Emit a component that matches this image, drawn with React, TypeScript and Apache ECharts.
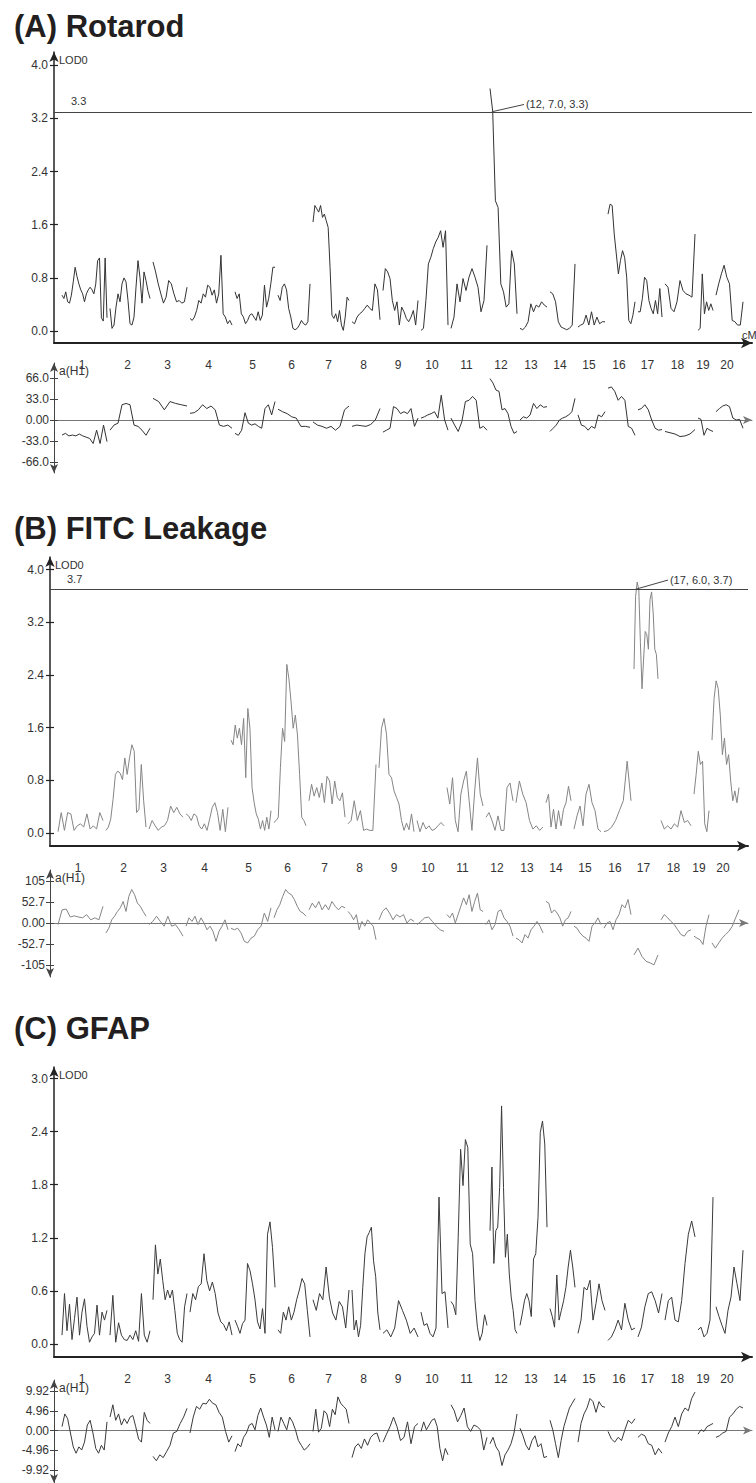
import React, { useEffect, useRef } from "react";
import * as echarts from "echarts";

// ---------- genome layout (cM) ----------
const CHROMS = ["1","2","3","4","5","6","7","8","9","10","11","12","13","14","15","16","17","18","19","20"];
const CHROM_LEN_CM = [180,160,136,168,160,128,144,112,140,108,144,108,108,100,108,108,96,120,60,108];
const CHROM_GAP_CM = 12;
const X_MIN = -32;
const X_MAX = 2760;

// ---------- (A) Rotarod ----------
const rotarodLod = [
  [0.54,0.49,0.59,0.44,0.42,0.54,0.74,0.96,0.82,0.71,0.62,0.56,0.44,0.56,0.62,0.66,0.62,0.56,0.71,1.06,1.1,0.2,0.15,1.1,0.2],
  [0.34,0.04,0.09,0.36,0.56,0.44,0.71,0.8,0.74,0.46,0.11,0.09,0.21,0.66,1.06,0.8,0.42,0.89,0.76,0.6,0.49],
  [1.04,0.89,0.71,0.56,0.42,0.51,0.76,0.71,0.56,0.44,0.46,0.42,0.44,0.66],
  [0.19,0.16,0.21,0.31,0.46,0.42,0.56,0.51,0.69,0.66,0.54,0.62,0.42,0.56,1.14,0.26,0.21,0.11,0.16,0.09],
  [0.59,0.49,0.56,0.26,0.21,0.11,0.16,0.24,0.26,0.21,0.16,0.29,0.16,0.24,0.69,0.36,0.49,0.71,0.96,0.96],
  [0.54,0.46,0.66,0.71,0.62,0.34,0.21,0.04,0.02,0.04,0.09,0.16,0.11,0.09,0.14,0.71],
  [1.64,1.89,1.84,1.79,1.89,1.71,1.76,1.66,1.56,0.96,0.24,0.19,0.26,0.14,0.31,0.09,0.01,0.21,0.51,0.46],
  [0.14,0.11,0.21,0.26,0.29,0.34,0.39,0.34,0.31,0.71,0.62,0.17],
  [0.61,0.94,0.89,0.79,0.46,0.31,0.44,0.09,0.36,0.29,0.19,0.14,0.21,0.31,0.09,0.46],
  [0.01,0.04,0.46,1.01,1.11,1.24,1.34,1.41,1.51,1.26,1.51,0.09],
  [0.04,0.21,0.71,0.44,0.79,0.61,0.81,0.94,0.81,0.66,0.29,0.46,1.29],
  [3.65,3.31,1.96,1.86,0.71,0.59,0.36,0.41,1.21,1.01,0.26],
  [0.04,0.02,0.06,0.14,0.41,0.29,0.39,0.36,0.44,0.39,0.36],
  [0.59,0.56,0.44,0.14,0.06,0.04,0.02,0.04,0.09,1.01],
  [0.06,0.09,0.11,0.24,0.09,0.29,0.09,0.21,0.11,0.14,0.14],
  [1.76,1.91,1.89,1.46,1.16,0.86,1.06,1.21,1.11,0.81,0.16,0.11,0.24,0.44],
  [0.29,0.29,0.49,0.81,0.76,0.46,0.34,0.26,0.46,0.26,0.64,0.21],
  [0.71,0.66,0.34,0.29,0.44,0.76,0.61,0.56,0.54,0.51,1.46],
  [0.01,0.04,0.86,0.26,0.44,0.31,0.41,0.31],
  [0.54,0.71,0.86,0.99,0.81,0.71,0.16,0.14,0.09,0.09,0.44],
];
const rotarodEffect = [
  [-23.6,-21,-25,-23.6,-25,-22,-25,-27,-29,-37,-16,-37,-8,-34],
  [-16,-8,-5,24,26,24,-8,-10,-16,-24,-13],
  [34,29,16,29,26,24,22],
  [10.5,11.5,16,24,18,22,16,-8,-10,-8,-13],
  [-21,-24,-16,11.5,-5,-8,-6,-10,-13,18,24,8,29],
  [17,13,10,5,3,-10,-10,-11.5],
  [-3,-8,-10,-13,-10,-16,-10,16,22],
  [-10,-8,-9,-10,-7,0,18],
  [-19,-16,-13,21,18,10,13,10,18,-10,3],
  [3,5,8,10,13,3,39,0,-16],
  [3,-8,-18,-3,29,31,37,31,-13,-10,-16],
  [65,58,47,45,16,18,10,-10,-21,-18],
  [0,5,3,8,26,18,24,20,21],
  [-18,-13,-8,0,3,5,8,13,34],
  [8,-8,-10,-16,-10,-13,8,5,13],
  [50,52,45,31,37,31,-10,-13,-24],
  [16,18,24,16,0,-13,-16,-15],
  [-18,-20,-22,-26,-25,-22,-15],
  [3,1,-24,-13,-16,-18],
  [13,18,22,24,21,3,0,1,-13],
];

// ---------- (B) FITC Leakage ----------
const fitcLod = [
  [0.02,0.31,0.04,0.31,0.29,0.04,0.11,0.14,0.09,0.29,0.06,0.11,0.06,0.31,0.19],
  [0.04,0.09,0.21,0.51,0.89,0.94,0.91,0.81,1.14,0.89,1.14,1.34,1.24,0.31,0.36,1.04,0.49,0.09],
  [0.06,0.19,0.11,0.04,0.09,0.11,0.19,0.41,0.31,0.39,0.29,0.24],
  [0.29,0.26,0.19,0.29,0.26,0.11,0.06,0.14,0.04,0.21,0.39,0.46,0.31,0.04,0.36,0.02,0.39],
  [1.41,1.34,1.64,1.44,1.59,1.34,1.74,0.84,1.89,1.59,0.69,0.46,0.29,0.21,0.06,0.19,0.04,0.24,0.06,0.34],
  [0.16,0.19,0.24,0.99,1.59,1.39,2.56,2.34,1.99,1.59,1.79,1.49,0.89,0.24,0.19,0.11],
  [0.49,0.74,0.56,0.69,0.54,0.76,0.46,0.86,0.79,0.44,0.79,0.54,0.49,0.61,0.24],
  [0.14,0.19,0.49,0.19,0.34,0.04,0.06,0.04,0.04,1.04],
  [0.99,1.59,1.74,1.5,0.89,0.84,0.64,0.54,0.44,0.19,0.04,0.15,0.05,0.29,0.02],
  [0.19,0.02,0.16,0.06,0.11,0.04,0.06,0.11,0.16,0.11],
  [0.69,0.44,0.84,0.19,0.02,0.59,0.79,0.94,0.49,0.04,0.64,1.14,0.59,0.41],
  [0.24,0.31,0.19,0.04,0.26,0.04,0.04,0.69,0.76,0.49],
  [0.46,0.79,0.59,0.46,0.19,0.06,0.11,0.04,0.09],
  [0.46,0.59,0.09,0.36,0.06,0.34,0.11,0.36,0.46,0.71,0.49],
  [0.06,0.26,0.41,0.11,0.59,0.74,0.46,0.34,0.06,0.02],
  [0.02,0.04,0.09,0.19,0.34,0.49,1.09,0.49],
  [2.49,3.59,3.81,3.69,2.89,2.19,2.64,3.06,3.01,2.79,3.54,3.66,3.34,2.79,2.71,2.34],
  [0.19,0.06,0.11,0.06,0.14,0.09,0.34,0.16,0.19,0.11],
  [0.59,0.89,1.24,1.04,1.09,0.14,0.02,0.34],
  [1.41,2.04,2.31,2.19,1.79,1.19,1.44,1.04,1.19,0.79,0.49,0.64,0.46,0.69],
];
const fitcEffect = [
  [-4,33,35,15,18,15,13,21,8,13,8,42],
  [-25,-13,8,17,29,38,54,29,67,84,71,50,42,29,17],
  [-4,4,17,4,-8,17,-8,-4,-17,-33],
  [-8,13,4,17,-4,13,0,-17,-8,-21,-46,-21,-8,8,-17],
  [-13,-17,-13,-25,-46,-50,-38,-33,-17,-8,25,4,38],
  [13,33,46,67,84,75,71,59,42,29,25,17],
  [33,50,38,54,33,46,33,54,42,33,42,38],
  [29,21,8,21,-17,4,-8,8,0,-8,-42],
  [8,29,38,25,8,21,15,21,0,10,4],
  [-4,4,13,15,4,-8,-17,-21],
  [21,13,25,0,21,42,63,46,71,29,54,75,33,29],
  [-4,8,-17,-4,29,33,13,4,-8,-33],
  [-38,-42,-50,-29,-38,-17,-8,4,-8,-25],
  [54,50,25,33,25,13,-8,8,13,29],
  [-8,-13,-25,-33,-38,-46,-8,0,13,-4],
  [-13,0,4,-17,8,21,46,38,59,21],
  [-80,-63,-84,-96,-100,-105,-80],
  [8,21,13,4,-4,-17,-29,-33,-21,-17],
  [-33,-38,-42,-54,-8,21],
  [-50,-63,-50,-38,-29,-21,-8,13,33],
];

// ---------- (C) GFAP ----------
const gfapLod = [
  [0.1,0.57,0.15,0.45,0.05,0.29,0.53,0.1,0.36,0.51,0.2,0.02,0.08,0.12,0.44,0.1,0.36,0.27,0.38],
  [0.1,0.55,0.02,0.24,0.1,0.05,0.04,0.1,0.05,0.15,0.03,0.57,0.1,0.02,0.15],
  [0.5,1.12,0.79,0.96,0.72,0.5,0.61,0.52,0.61,0.38,0.12,0.05,0.02,0.42,0.57],
  [0.36,0.57,0.5,0.65,0.68,1.02,0.72,0.6,0.7,0.57,0.35,0.25,0.22,0.15,0.25,0.1],
  [0.27,0.2,0.12,0.23,0.27,0.91,0.83,0.68,0.5,0.25,0.17,0.4,0.12,1.24,1.38,1.09,0.64],
  [0.16,0.12,0.36,0.27,0.42,0.27,0.36,0.5,0.61,0.74,0.68,0.38,0.08],
  [0.5,0.38,0.57,0.5,0.87,0.53,0.35,0.27,0.48,0.42,0.18,0.61],
  [0.61,0.16,0.27,0.08,0.21,0.64,1.02,1.21,1.26,1.32,0.94,0.76,0.35,0.16],
  [0.12,0.16,0.08,0.18,0.49,0.38,0.27,0.12,0.18,0.08],
  [0.36,0.21,0.23,0.12,0.08,0.18,1.66,0.57,0.59,0.18],
  [0.48,0.44,0.33,1.2,2.2,1.79,2.31,2.22,1.13,1.02,0.49,0.19,0.04,0.12,0.33,0.21],
  [1.28,2.0,0.91,1.28,1.32,1.77,2.69,1.77,0.98,1.24,0.79,0.53,0.38,0.16,0.12],
  [0.21,0.34,0.49,0.57,0.49,0.31,0.96,1.02,1.43,2.39,2.52,2.26,1.32],
  [0.4,0.31,0.19,0.78,0.27,0.38,0.49,0.64,0.87,1.06,0.87,0.64],
  [0.12,0.27,0.64,0.61,0.72,0.27,0.46,0.68,0.49,0.38],
  [0.04,0.08,0.16,0.27,0.16,0.46,0.27,0.16,0.18],
  [0.08,0.19,0.42,0.57,0.59,0.49,0.35,0.57],
  [0.27,0.49,0.53,0.27,0.25,0.49,0.91,1.24,1.39,1.21],
  [0.16,0.19,0.08,0.12,0.27,1.66],
  [0.42,0.31,0.21,0.12,0.38,0.53,0.87,0.68,0.49,1.06],
];
const gfapEffect = [
  [1.0,4.2,3.0,-0.6,-4.1,-5.7,-4.1,-4.9,-2.9,1.4,2.6,-0.6,-4.5,-5.7,-3.7,-4.9,2.2],
  [3.4,6.5,2.6,4.2,1.4,3.0,1.8,3.4,3.8,1.0,-2.1,-2.9,4.6,2.6,1.8],
  [-6.5,-7.6,-6.1,-6.8,-5.3,-3.7,-0.6,-0.2,1.8,3.4,5.6],
  [-0.6,3.4,6.1,5.4,6.9,6.7,7.9,6.9,6.5,4.6,3.4,-0.2,-2.9,-1.3],
  [-5.3,-3.3,-4.1,-1.7,-0.6,1.4,1.8,0.2,3.8,5.7,3.4,1.4,-1.7,3.4,0.2],
  [-0.2,3.4,1.8,0.2,3.4,2.2,0.2,-2.5,-3.7,-4.9,-4.3,-3.3],
  [-0.2,5.4,-0.4,0.6,5.0,4.2,1.0,5.4,4.0,8.5,6.9,6.1,5.4,1.8],
  [-6.8,-4.1,-3.3,-4.5,-2.1,-3.7,-1.7,-0.9,-0.6,-2.9],
  [-2.9,-0.9,1.0,3.4,1.0,-2.5,-1.7,2.2,-3.3,1.0,1.8],
  [-0.2,2.2,0.2,1.4,2.6,3.0,1.0,-4.5,-7.6,-4.5,-6.1],
  [6.5,5.0,2.2,3.8,5.7,1.0,-0.2,1.4,1.0,0.2,-4.9,-1.7],
  [-3.3,-1.7,-4.1,-5.3,-8.8,-6.1,-4.9,-3.3,-0.6,4.2],
  [0.6,-1.3,-3.7,-4.9,-2.5,-1.3,-4.1,-3.3,-6.8,-6.5],
  [2.6,0.2,-3.3,-6.8,-2.5,1.0,3.4,5.7,6.9,8.1],
  [-2.9,1.8,4.2,5.7,8.1,7.3,4.6,7.3,6.1,5.9],
  [-0.2,-2.1,-2.9,-1.7,-2.5,0.2,2.6,1.8,3.0],
  [-1.7,-0.9,-1.3,-3.3,-3.7,-6.1,-4.5,-5.7],
  [-2.9,-0.6,1.0,3.4,1.0,4.2,5.7,5.0,8.1,9.7],
  [-0.9,0.2,-0.2,1.0,1.4,1.8],
  [-1.7,-1.3,-0.6,-0.2,3.4,4.2,5.4,6.1,5.7],
];

// ---------- ticks / labels ----------
const lodTicksAB = [0, 0.8, 1.6, 2.4, 3.2, 4.0];
const lodTicksC = [0, 0.6, 1.2, 1.8, 2.4, 3.0];
const effTicksA = [-66, -33, 0, 33, 66];
const effLabelsA = ["-66.0", "-33.0", "0.00", "33.0", "66.0"];
const effTicksB = [-105, -52.7, 0, 52.7, 105];
const effLabelsB = ["-105", "-52.7", "0.00", "52.7", "105"];
const effTicksC = [-9.92, -4.96, 0, 4.96, 9.92];
const effLabelsC = ["-9.92", "-4.96", "0.00", "4.96", "9.92"];

const titles = ["(A) Rotarod", "(B) FITC Leakage", "(C) GFAP"];
const thresholds = [3.3, 3.7, null];
const peakChrom = [12, 17, null];
const peakPosCM = [7.0, 6.0, null];

const FONT = '"Liberation Sans", Arial, Helvetica, sans-serif';

function chromStarts() {
  const s: number[] = [];
  let acc = 0;
  CHROM_LEN_CM.forEach((len) => {
    s.push(acc);
    acc += len + CHROM_GAP_CM;
  });
  return s;
}
const STARTS = chromStarts();
const MIDS = CHROM_LEN_CM.map((len, i) => STARTS[i] + len / 2);

function buildLine(values: number[][]) {
  const out: any[] = [];
  values.forEach((vals, c) => {
    const start = STARTS[c];
    const len = CHROM_LEN_CM[c];
    const n = vals.length;
    vals.forEach((v, j) => out.push([start + (j * len) / (n - 1), v]));
    out.push([start + len + CHROM_GAP_CM / 2, "-"]);
  });
  return out;
}

const chromLabel = (v: number) => {
  const i = MIDS.findIndex((m) => Math.abs(m - v) < 0.01);
  return i >= 0 ? CHROMS[i] : "";
};

export default function App() {
  const ref = useRef<HTMLDivElement>(null);
  useEffect(() => {
    if (!ref.current) return;
    const chart = echarts.init(ref.current, undefined, { renderer: "svg" });

    const panels = [
      { left: 54, lodTop: 52, lodH: 291, lodMin: -0.18, lodMax: 4.2, effTop: 363, effH: 110, effMin: -83.3, effMax: 89.6,
        lod: rotarodLod, eff: rotarodEffect, lodTicks: lodTicksAB, effTicks: effTicksA, effLabels: effLabelsA,
        color: "#333333", titleY: 26.5, peakEnd: [1848, 3.41], peakLabel: "(12, 7.0, 3.3)", cm: true },
      { left: 50, lodTop: 557, lodH: 289, lodMin: -0.197, lodMax: 4.19, effTop: 870, effH: 107, effMin: -135.5, effMax: 133,
        lod: fitcLod, eff: fitcEffect, lodTicks: lodTicksAB, effTicks: effTicksB, effLabels: effLabelsB,
        color: "#858585", titleY: 528.5, peakEnd: [2440, 3.84], peakLabel: "(17, 6.0, 3.7)", cm: false },
      { left: 54, lodTop: 1067, lodH: 290, lodMin: -0.147, lodMax: 3.13, effTop: 1380, effH: 110, effMin: -13.2, effMax: 12.75,
        lod: gfapLod, eff: gfapEffect, lodTicks: lodTicksC, effTicks: effTicksC, effLabels: effLabelsC,
        color: "#3a3a3a", titleY: 1028.5, peakEnd: null, peakLabel: "", cm: false },
    ];

    const grid: any[] = [];
    const xAxis: any[] = [];
    const yAxis: any[] = [];
    const series: any[] = [];
    const graphic: any[] = [];

    panels.forEach((p, pi) => {
      graphic.push({
        type: "text", x: 14, y: p.titleY,
        style: { text: titles[pi], fontSize: 31, fontWeight: "bold", fontFamily: FONT, fill: "#231f20", verticalAlign: "middle" },
      });
      if (p.cm) {
        // axis unit, sitting just above the arrow head of the LOD axis
        graphic.push({
          type: "text", x: 742, y: p.lodTop + p.lodH - 8,
          style: { text: "cM", fontSize: 11, fontFamily: FONT, fill: "#333", verticalAlign: "middle" },
        });
      }
      grid.push({ left: p.left, top: p.lodTop, width: 698, height: p.lodH });
      grid.push({ left: p.left, top: p.effTop, width: 698, height: p.effH });

      // LOD x axis
      xAxis.push({
        type: "value", gridIndex: 2 * pi, min: X_MIN, max: X_MAX,
        axisLine: { onZero: false, symbol: ["none", "arrow"], symbolSize: [8, 11], lineStyle: { color: "#222", width: 2 } },
        axisTick: { show: false },
        splitLine: { show: false },
        axisLabel: { customValues: MIDS, formatter: chromLabel, margin: 16, fontSize: 12, color: "#333", fontFamily: FONT, padding: [0, 5, 0, 0] },
      });
      // effect x axis (zero line)
      xAxis.push({
        type: "value", gridIndex: 2 * pi + 1, min: X_MIN, max: X_MAX,
        axisLine: { onZero: true, onZeroAxisIndex: 4 * pi + 2, symbol: ["none", "arrow"], symbolSize: [6, 9], lineStyle: { color: "#777", width: 1 } },
        axisTick: { show: false }, axisLabel: { show: false }, splitLine: { show: false },
      });

      // LOD y axis
      yAxis.push({
        type: "value", gridIndex: 2 * pi, min: p.lodMin, max: p.lodMax, position: "left",
        name: "LOD0", nameLocation: "end", nameGap: -8,
        nameTextStyle: { align: "left", verticalAlign: "middle", padding: [0, 0, 0, 5], fontSize: 11, color: "#333", fontFamily: FONT },
        axisLine: { show: true, onZero: false, symbol: ["none", "arrow"], symbolSize: [7, 10], lineStyle: { color: "#222", width: 1.5 } },
        axisTick: { show: true, customValues: p.lodTicks, length: 4, lineStyle: { color: "#222", width: 1.2 } },
        axisLabel: { customValues: p.lodTicks, formatter: (v: number) => v.toFixed(1), margin: 6, fontSize: 12, color: "#333", fontFamily: FONT },
        splitLine: { show: false },
      });
      yAxis.push({
        type: "value", gridIndex: 2 * pi, min: p.lodMin, max: p.lodMax, position: "left",
        axisLine: { show: false, onZero: false },
        axisTick: { show: true, inside: true, customValues: p.lodTicks, length: 4, lineStyle: { color: "#222", width: 1.2 } },
        axisLabel: { show: false }, splitLine: { show: false },
      });
      // effect y axis
      const effFmt = (v: number) => {
        const i = p.effTicks.findIndex((t) => Math.abs(t - v) < 1e-6);
        return i >= 0 ? p.effLabels[i] : "";
      };
      yAxis.push({
        type: "value", gridIndex: 2 * pi + 1, min: p.effMin, max: p.effMax, position: "left",
        name: "a(H1)", nameLocation: "end", nameGap: -8,
        nameTextStyle: { align: "left", verticalAlign: "middle", padding: [0, 0, 0, 5], fontSize: 12, color: "#333", fontFamily: FONT },
        axisLine: { show: true, onZero: false, symbol: ["arrow", "arrow"], symbolSize: [6, 9], lineStyle: { color: "#444", width: 1 } },
        axisTick: { show: true, customValues: p.effTicks, length: 4, lineStyle: { color: "#444", width: 1 } },
        axisLabel: { customValues: p.effTicks, formatter: effFmt, margin: 5, fontSize: 12, color: "#333", fontFamily: FONT },
        splitLine: { show: false },
      });
      yAxis.push({
        type: "value", gridIndex: 2 * pi + 1, min: p.effMin, max: p.effMax, position: "left",
        axisLine: { show: false, onZero: false },
        axisTick: { show: true, inside: true, customValues: p.effTicks, length: 4, lineStyle: { color: "#444", width: 1 } },
        axisLabel: { show: false }, splitLine: { show: false },
      });

      const thr = thresholds[pi];
      const markData: any[] = [];
      if (thr !== null) {
        markData.push({
          yAxis: thr,
          label: { show: true, position: "insideStartTop", formatter: thr.toFixed(1), fontSize: 11, color: "#333", fontFamily: FONT, padding: [0, 0, 0, 12] },
        });
        const c = (peakChrom[pi] as number) - 1;
        const x1 = STARTS[c] + (peakPosCM[pi] as number);
        const lbl = { show: true, position: "end", formatter: p.peakLabel, fontSize: 11, color: "#333", fontFamily: FONT, distance: 2 };
        markData.push([
          { coord: [x1, thr], label: lbl },
          { coord: p.peakEnd, label: lbl },
        ]);
      }

      series.push({
        type: "line", xAxisIndex: 2 * pi, yAxisIndex: 4 * pi, data: buildLine(p.lod),
        showSymbol: false, connectNulls: false, lineStyle: { color: p.color, width: 1 }, itemStyle: { color: p.color },
        markLine: thr !== null ? {
          silent: true, symbol: "none", animation: false,
          lineStyle: { color: "#444", width: 1, type: "solid" },
          data: markData,
        } : undefined,
      });
      series.push({
        type: "line", xAxisIndex: 2 * pi + 1, yAxisIndex: 4 * pi + 2, data: buildLine(p.eff),
        showSymbol: false, connectNulls: false, lineStyle: { color: p.color, width: 1 }, itemStyle: { color: p.color },
      });
    });

    chart.setOption({
      animation: false,
      backgroundColor: "#ffffff",
      textStyle: { fontFamily: FONT },
      grid, xAxis, yAxis, series, graphic,
    });
    return () => chart.dispose();
  }, []);

  return (
    <div
      ref={ref}
      style={{ position: "absolute", left: 0, top: 0, width: 756, height: 1483, background: "#fff" }}
    />
  );
}
